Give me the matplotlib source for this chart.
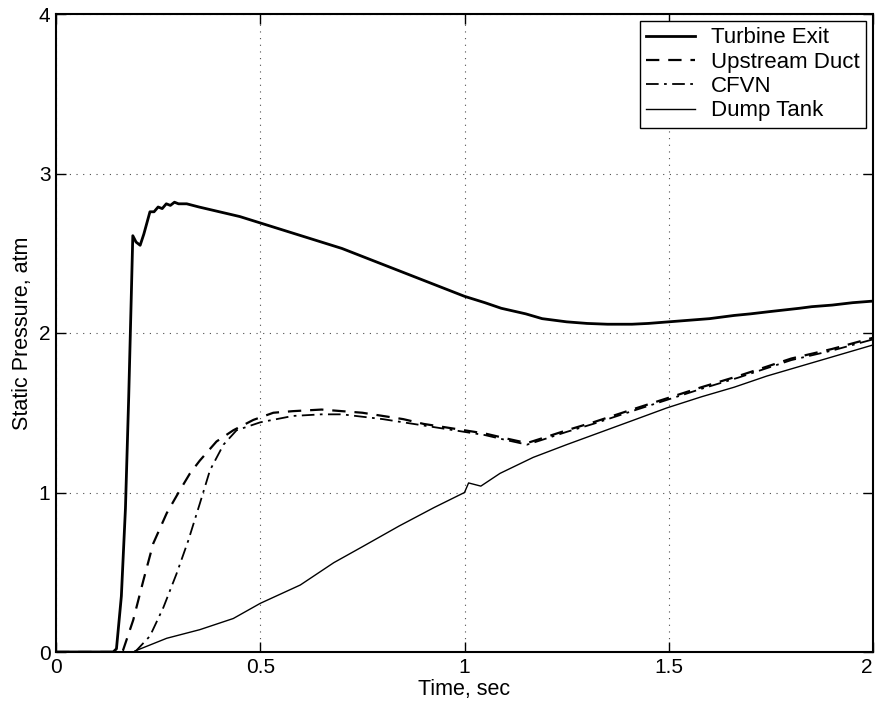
import matplotlib
matplotlib.use("Agg")
import matplotlib.pyplot as plt

plt.rcParams['font.family'] = ['Liberation Sans', 'DejaVu Sans']

# ---- data ----
t_turb = [0, 0.05, 0.10, 0.14, 0.148, 0.16, 0.17, 0.178, 0.184, 0.188, 0.196, 0.206,
          0.215, 0.23, 0.24, 0.25, 0.26, 0.27, 0.28, 0.29, 0.30, 0.32, 0.35, 0.40,
          0.45, 0.50, 0.55, 0.60, 0.65, 0.70, 0.75, 0.80, 0.85, 0.90, 0.95, 1.00,
          1.05, 1.09, 1.15, 1.19, 1.25, 1.30, 1.35, 1.41, 1.45, 1.50, 1.55, 1.60,
          1.66, 1.70, 1.75, 1.82, 1.85, 1.90, 1.95, 2.00]
p_turb = [0, 0, 0, 0, 0.02, 0.35, 0.9, 1.6, 2.2, 2.61, 2.57, 2.55,
          2.62, 2.76, 2.76, 2.79, 2.78, 2.81, 2.80, 2.82, 2.81, 2.81, 2.79, 2.76,
          2.73, 2.69, 2.65, 2.61, 2.57, 2.53, 2.48, 2.43, 2.38, 2.33, 2.28, 2.23,
          2.19, 2.155, 2.12, 2.09, 2.07, 2.06, 2.055, 2.055, 2.06, 2.07, 2.08, 2.09,
          2.11, 2.12, 2.135, 2.155, 2.165, 2.175, 2.19, 2.20]

t_duct = [0, 0.10, 0.15, 0.164, 0.189, 0.214, 0.238, 0.271, 0.30, 0.328, 0.352,
          0.393, 0.434, 0.483, 0.532, 0.58, 0.65, 0.70, 0.75, 0.80, 0.85, 0.90,
          0.95, 1.00, 1.05, 1.10, 1.153, 1.19, 1.25, 1.315, 1.41, 1.495, 1.58,
          1.67, 1.80, 1.90, 2.00]
p_duct = [0, 0, 0, 0.01, 0.20, 0.45, 0.68, 0.87, 1.0, 1.12, 1.20,
          1.32, 1.39, 1.455, 1.50, 1.51, 1.52, 1.51, 1.50, 1.48, 1.46, 1.43,
          1.41, 1.39, 1.37, 1.34, 1.31, 1.34, 1.39, 1.44, 1.52, 1.59, 1.66,
          1.73, 1.84, 1.90, 1.97]

t_cfvn = [0, 0.10, 0.19, 0.197, 0.23, 0.263, 0.295, 0.324, 0.352, 0.377, 0.41,
          0.442, 0.50, 0.58, 0.65, 0.70, 0.80, 0.90, 1.00, 1.05, 1.10, 1.153,
          1.19, 1.25, 1.315, 1.41, 1.495, 1.58, 1.67, 1.80, 1.90, 2.00]
p_cfvn = [0, 0, 0, 0.01, 0.10, 0.28, 0.49, 0.70, 0.93, 1.14, 1.30,
          1.39, 1.44, 1.48, 1.49, 1.49, 1.46, 1.42, 1.38, 1.36, 1.33, 1.30,
          1.33, 1.38, 1.43, 1.51, 1.58, 1.65, 1.72, 1.83, 1.89, 1.96]

t_dump = [0, 0.10, 0.19, 0.197, 0.271, 0.352, 0.434, 0.50, 0.598, 0.68, 0.75,
          0.84, 0.925, 1.00, 1.01, 1.04, 1.087, 1.168, 1.25, 1.33, 1.41, 1.495,
          1.58, 1.66, 1.74, 1.82, 1.90, 2.00]
p_dump = [0, 0, 0, 0.01, 0.086, 0.14, 0.21, 0.305, 0.42, 0.56, 0.66,
          0.79, 0.905, 1.0, 1.06, 1.04, 1.12, 1.22, 1.30, 1.375, 1.45, 1.53,
          1.60, 1.66, 1.73, 1.79, 1.85, 1.925]

x_ticks = [0, 0.5, 1, 1.5, 2]
x_tick_labels = ['0', '0.5', '1', '1.5', '2']
y_ticks = [0, 1, 2, 3, 4]

fig = plt.figure(figsize=(8.75, 7.11), dpi=100)
ax = fig.add_axes([56 / 875, 1 - 652 / 711, (873 - 56) / 875, (652 - 14) / 711])

ax.plot(t_turb, p_turb, color='black', lw=2.0, ls='-', label='Turbine Exit')
ax.plot(t_duct, p_duct, color='black', lw=1.6, ls=(0, (6, 4)), label='Upstream Duct')
ax.plot(t_cfvn, p_cfvn, color='black', lw=1.3, ls=(0, (7, 3, 1.5, 3)), label='CFVN')
ax.plot(t_dump, p_dump, color='black', lw=1.0, ls='-', label='Dump Tank')

ax.set_xlim(0, 2)
ax.set_ylim(0, 4)
ax.set_xticks(x_ticks)
ax.set_xticklabels(x_tick_labels)
ax.set_yticks(y_ticks)
ax.tick_params(direction='in', length=7, width=1, top=True, right=True,
               labelsize=15, pad=4)
ax.get_xticklabels()[-1].set_horizontalalignment('right')
ax.grid(True, color='black', ls=(0, (1, 5)), lw=0.8, alpha=0.7)
for s in ax.spines.values():
    s.set_linewidth(1.5)

ax.set_xlabel('Time, sec', fontsize=15.5, labelpad=2)
ax.set_ylabel('Static Pressure, atm', fontsize=15.5, labelpad=4)

leg = ax.legend(loc='upper right', fontsize=16, frameon=True, fancybox=False,
                edgecolor='black', framealpha=1, handlelength=2.2,
                borderaxespad=0.3, labelspacing=0.15, borderpad=0.3,
                handletextpad=0.7)
leg.get_frame().set_linewidth(1.0)

fig.savefig('out.png', dpi=100)
